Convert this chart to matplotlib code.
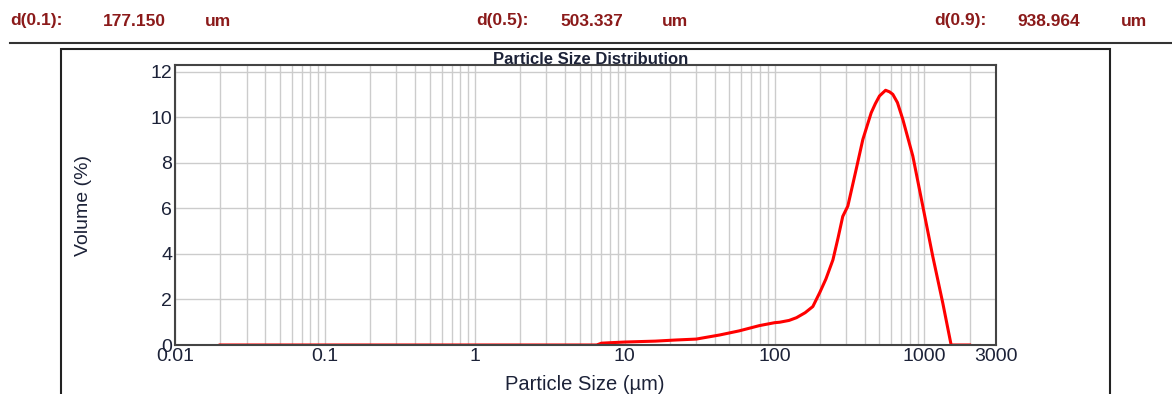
import matplotlib
matplotlib.use("Agg")
import matplotlib.pyplot as plt
from matplotlib.patches import Rectangle
from matplotlib.lines import Line2D
from matplotlib.ticker import FixedLocator, NullFormatter

plt.rcParams['font.family'] = ['Liberation Sans', 'DejaVu Sans']

# percentile values shown in the header
d_labels = ['d(0.1):', 'd(0.5):', 'd(0.9):']
d_values = ['177.150', '503.337', '938.964']

# particle size distribution
size_um = [0.02, 1, 5, 6.5, 7, 8, 10, 12.6, 16, 22, 30, 43, 58, 79, 100, 108,
           125, 140, 160, 180, 200, 220, 245, 265, 285, 308, 350, 388, 441,
           470, 501, 550, 585, 615, 660, 717, 836, 975, 1136, 1325, 1506, 2000]
volume = [0, 0, 0, 0, 0.08, 0.1, 0.13, 0.15, 0.17, 0.22, 0.26, 0.44, 0.62,
          0.85, 0.98, 1.0, 1.08, 1.2, 1.42, 1.69, 2.3, 2.9, 3.74, 4.7, 5.65,
          6.1, 7.71, 9.03, 10.2, 10.6, 10.94, 11.19, 11.12, 11.01, 10.65,
          9.91, 8.3, 6.09, 3.89, 1.84, 0, 0]

x_ticks = [0.01, 0.1, 1, 10, 100, 1000, 3000]
x_ticklabels = ['0.01', '0.1', '1', '10', '100', '1000', '3000']
y_ticks = [0, 2, 4, 6, 8, 10, 12]

W, H = 1172, 394
fig = plt.figure(figsize=(W / 100, H / 100), dpi=100)

def fx(px):
    return px / W

def fy(py):
    return 1 - py / H

# header
hdr_color = '#8b1a1a'
x_lab = [10, 476, 934]
x_val = [103, 560, 1017]
x_um = [205, 662, 1121]
for i in range(3):
    for xp, s in [(x_lab[i], d_labels[i]), (x_val[i], d_values[i]), (x_um[i], 'um')]:
        fig.text(fx(xp), fy(21), s, color=hdr_color, fontsize=12.5,
                 fontweight='bold', va='center', ha='left')

fig.add_artist(Line2D([fx(10), 1], [fy(42.5), fy(42.5)], color='#333333', lw=1.5))
fig.add_artist(Rectangle((fx(61), fy(420)), fx(1110 - 61), (420 - 49) / H,
                         fill=False, edgecolor='#222222', lw=1.5))

ax = fig.add_axes([fx(175), fy(345), fx(996 - 175), (345 - 65) / H])
ax.plot(size_um, volume, color='#ff0000', lw=2.2, solid_joinstyle='round')
ax.set_xscale('log')
ax.set_xlim(0.01, 3000)
ax.set_ylim(0, 12.3)

minor = []
for dec in [0.01, 0.1, 1, 10, 100, 1000]:
    for k in range(2, 10):
        if dec * k < 3000:
            minor.append(dec * k)
ax.xaxis.set_major_locator(FixedLocator(x_ticks))
ax.set_xticklabels(x_ticklabels)
ax.xaxis.set_minor_locator(FixedLocator(minor))
ax.xaxis.set_minor_formatter(NullFormatter())
ax.set_yticks(y_ticks)

ax.grid(True, which='both', axis='x', color='#cccccc', lw=1)
ax.grid(True, which='major', axis='y', color='#cccccc', lw=1)
ax.set_axisbelow(True)
ax.tick_params(which='both', length=0, labelsize=14, labelcolor='#1c2238', pad=2)
for s in ax.spines.values():
    s.set_color('#444444')
    s.set_linewidth(1.5)

ax.set_xlabel('Particle Size (µm)', fontsize=14.5, color='#1c2238', va='center')
ax.xaxis.set_label_coords((585 - 175) / 821, (345 - 384) / 280)
ax.set_ylabel('Volume (%)', fontsize=14, color='#1c2238', va='center')
ax.yaxis.set_label_coords((84 - 175) / 821, 0.5)
fig.text(fx(591), fy(59), 'Particle Size Distribution', fontsize=12,
         fontweight='bold', color='#1c2238', ha='center', va='center')

fig.savefig('out.png', dpi=100)
